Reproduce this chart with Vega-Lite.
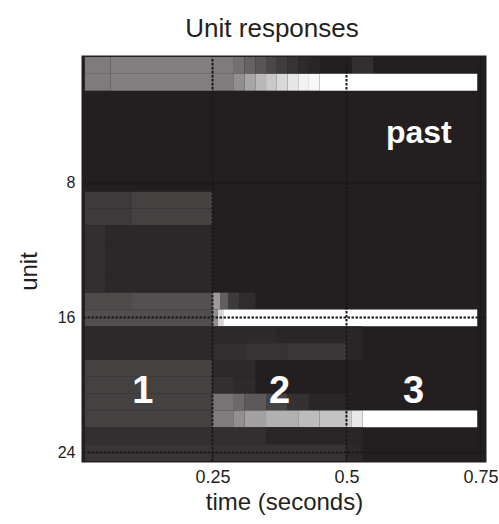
{
  "$schema": "https://vega.github.io/schema/vega-lite/v6.json",
  "width": 402,
  "height": 404,
  "autosize": {"type": "none"},
  "padding": {"left": 83, "top": 57, "right": 14, "bottom": 63},
  "background": "#ffffff",
  "config": {
    "view": {"fill": "#231f20", "stroke": "#231f20", "strokeWidth": 3},
    "axis": {
      "domain": false,
      "ticks": false,
      "grid": true,
      "gridColor": "#1a1718",
      "gridDash": [2.5, 1.5],
      "gridWidth": 2,
      "gridOpacity": 1,
      "labelColor": "#231f20",
      "titleColor": "#231f20",
      "labelFont": "Liberation Sans",
      "titleFont": "Liberation Sans",
      "titleFontWeight": "normal"
    }
  },
  "title": {
    "text": "Unit responses",
    "font": "Liberation Sans",
    "fontSize": 26,
    "fontWeight": "normal",
    "color": "#231f20",
    "anchor": "middle",
    "baseline": "alphabetic",
    "offset": 20,
    "dy": 26,
    "dx": -12
  },
  "encoding": {
    "x": {
      "field": "t",
      "type": "quantitative",
      "scale": {"domain": [0.0085, 0.7585], "nice": false, "zero": false},
      "axis": {
        "title": "time (seconds)",
        "values": [0.25, 0.5, 0.75],
        "format": ".2~f",
        "labelFontSize": 18,
        "labelPadding": 7,
        "titleFontSize": 24,
        "titlePadding": 4,
        "zindex": 1
      }
    },
    "y": {
      "field": "unit",
      "type": "ordinal",
      "scale": {
        "domain": [1, 2, 3, 4, 5, 6, 7, 8, 9, 10, 11, 12, 13, 14, 15, 16, 17, 18, 19, 20, 21, 22, 23, 24],
        "paddingInner": 0,
        "paddingOuter": 0
      },
      "axis": {
        "title": "unit",
        "values": [8, 16, 24],
        "bandPosition": 0.5,
        "labelAngle": 0,
        "labelFontSize": 16,
        "labelPadding": 8,
        "titleFontSize": 24,
        "titlePadding": 16,
        "titleY": 214,
        "zindex": 1
      }
    }
  },
  "layer": [
    {
      "data": {
        "values": [
          {"unit": 1, "t": 0.012, "t_end": 0.06, "v": 0.41},
          {"unit": 1, "t": 0.06, "t_end": 0.25, "v": 0.43},
          {"unit": 1, "t": 0.25, "t_end": 0.29, "v": 0.41},
          {"unit": 1, "t": 0.29, "t_end": 0.31, "v": 0.36},
          {"unit": 1, "t": 0.31, "t_end": 0.33, "v": 0.30},
          {"unit": 1, "t": 0.33, "t_end": 0.35, "v": 0.24},
          {"unit": 1, "t": 0.35, "t_end": 0.37, "v": 0.18},
          {"unit": 1, "t": 0.37, "t_end": 0.39, "v": 0.13},
          {"unit": 1, "t": 0.39, "t_end": 0.41, "v": 0.09},
          {"unit": 1, "t": 0.41, "t_end": 0.43, "v": 0.05},
          {"unit": 1, "t": 0.43, "t_end": 0.45, "v": 0.03},
          {"unit": 1, "t": 0.51, "t_end": 0.55, "v": 0.07},

          {"unit": 2, "t": 0.012, "t_end": 0.06, "v": 0.41},
          {"unit": 2, "t": 0.06, "t_end": 0.25, "v": 0.43},
          {"unit": 2, "t": 0.25, "t_end": 0.29, "v": 0.42},
          {"unit": 2, "t": 0.29, "t_end": 0.31, "v": 0.50},
          {"unit": 2, "t": 0.31, "t_end": 0.33, "v": 0.60},
          {"unit": 2, "t": 0.33, "t_end": 0.35, "v": 0.68},
          {"unit": 2, "t": 0.35, "t_end": 0.37, "v": 0.76},
          {"unit": 2, "t": 0.37, "t_end": 0.39, "v": 0.83},
          {"unit": 2, "t": 0.39, "t_end": 0.41, "v": 0.89},
          {"unit": 2, "t": 0.41, "t_end": 0.43, "v": 0.94},
          {"unit": 2, "t": 0.43, "t_end": 0.45, "v": 0.97},
          {"unit": 2, "t": 0.45, "t_end": 0.744, "v": 1.0},

          {"unit": 9, "t": 0.012, "t_end": 0.10, "v": 0.12},
          {"unit": 9, "t": 0.10, "t_end": 0.25, "v": 0.15},
          {"unit": 10, "t": 0.012, "t_end": 0.10, "v": 0.12},
          {"unit": 10, "t": 0.10, "t_end": 0.25, "v": 0.15},

          {"unit": 11, "t": 0.012, "t_end": 0.05, "v": 0.07},
          {"unit": 11, "t": 0.05, "t_end": 0.25, "v": 0.04},
          {"unit": 12, "t": 0.012, "t_end": 0.05, "v": 0.07},
          {"unit": 12, "t": 0.05, "t_end": 0.25, "v": 0.04},
          {"unit": 13, "t": 0.012, "t_end": 0.05, "v": 0.07},
          {"unit": 13, "t": 0.05, "t_end": 0.25, "v": 0.04},
          {"unit": 14, "t": 0.012, "t_end": 0.05, "v": 0.07},
          {"unit": 14, "t": 0.05, "t_end": 0.25, "v": 0.04},

          {"unit": 15, "t": 0.012, "t_end": 0.10, "v": 0.19},
          {"unit": 15, "t": 0.10, "t_end": 0.25, "v": 0.22},
          {"unit": 15, "t": 0.25, "t_end": 0.265, "v": 0.55},
          {"unit": 15, "t": 0.265, "t_end": 0.28, "v": 0.28},
          {"unit": 15, "t": 0.28, "t_end": 0.30, "v": 0.12},
          {"unit": 15, "t": 0.30, "t_end": 0.33, "v": 0.06},

          {"unit": 16, "t": 0.012, "t_end": 0.25, "v": 0.21},
          {"unit": 16, "t": 0.25, "t_end": 0.26, "v": 0.50},
          {"unit": 16, "t": 0.26, "t_end": 0.27, "v": 0.82},
          {"unit": 16, "t": 0.27, "t_end": 0.744, "v": 1.0},

          {"unit": 17, "t": 0.012, "t_end": 0.25, "v": 0.05},
          {"unit": 17, "t": 0.25, "t_end": 0.37, "v": 0.05},
          {"unit": 17, "t": 0.37, "t_end": 0.5, "v": 0.03},
          {"unit": 17, "t": 0.5, "t_end": 0.53, "v": 0.03},

          {"unit": 18, "t": 0.012, "t_end": 0.25, "v": 0.05},
          {"unit": 18, "t": 0.25, "t_end": 0.31, "v": 0.07},
          {"unit": 18, "t": 0.31, "t_end": 0.39, "v": 0.09},
          {"unit": 18, "t": 0.39, "t_end": 0.5, "v": 0.11},
          {"unit": 18, "t": 0.5, "t_end": 0.53, "v": 0.03},

          {"unit": 19, "t": 0.012, "t_end": 0.25, "v": 0.15},
          {"unit": 19, "t": 0.25, "t_end": 0.33, "v": 0.05},

          {"unit": 20, "t": 0.012, "t_end": 0.25, "v": 0.15},
          {"unit": 20, "t": 0.25, "t_end": 0.29, "v": 0.07},
          {"unit": 20, "t": 0.29, "t_end": 0.33, "v": 0.05},

          {"unit": 21, "t": 0.012, "t_end": 0.25, "v": 0.15},
          {"unit": 21, "t": 0.25, "t_end": 0.29, "v": 0.38},
          {"unit": 21, "t": 0.29, "t_end": 0.31, "v": 0.33},
          {"unit": 21, "t": 0.31, "t_end": 0.35, "v": 0.26},
          {"unit": 21, "t": 0.35, "t_end": 0.39, "v": 0.16},
          {"unit": 21, "t": 0.39, "t_end": 0.43, "v": 0.08},
          {"unit": 21, "t": 0.43, "t_end": 0.5, "v": 0.03},

          {"unit": 22, "t": 0.012, "t_end": 0.25, "v": 0.15},
          {"unit": 22, "t": 0.25, "t_end": 0.29, "v": 0.42},
          {"unit": 22, "t": 0.29, "t_end": 0.31, "v": 0.50},
          {"unit": 22, "t": 0.31, "t_end": 0.35, "v": 0.58},
          {"unit": 22, "t": 0.35, "t_end": 0.41, "v": 0.65},
          {"unit": 22, "t": 0.41, "t_end": 0.45, "v": 0.70},
          {"unit": 22, "t": 0.45, "t_end": 0.5, "v": 0.73},
          {"unit": 22, "t": 0.5, "t_end": 0.51, "v": 0.78},
          {"unit": 22, "t": 0.51, "t_end": 0.53, "v": 0.90},
          {"unit": 22, "t": 0.53, "t_end": 0.744, "v": 1.0},

          {"unit": 23, "t": 0.012, "t_end": 0.25, "v": 0.07},
          {"unit": 23, "t": 0.25, "t_end": 0.35, "v": 0.07},
          {"unit": 23, "t": 0.35, "t_end": 0.5, "v": 0.03},
          {"unit": 23, "t": 0.5, "t_end": 0.53, "v": 0.03},

          {"unit": 24, "t": 0.012, "t_end": 0.25, "v": 0.10},
          {"unit": 24, "t": 0.25, "t_end": 0.5, "v": 0.09},
          {"unit": 24, "t": 0.5, "t_end": 0.53, "v": 0.04}
        ]
      },
      "mark": {"type": "rect"},
      "encoding": {
        "x2": {"field": "t_end"},
        "color": {
          "field": "v",
          "type": "quantitative",
          "scale": {"type": "linear", "domain": [0, 1], "range": ["#231f20", "#ffffff"], "interpolate": "rgb"},
          "legend": null
        }
      }
    },
    {
      "data": {"values": [{"t": 0.635, "unit": 5, "label": "past"}]},
      "mark": {
        "type": "text",
        "font": "Liberation Sans",
        "fontWeight": "bold",
        "fontSize": 32,
        "color": "#ffffff",
        "align": "center",
        "baseline": "alphabetic",
        "dy": 10
      },
      "encoding": {"text": {"field": "label"}}
    },
    {
      "data": {
        "values": [
          {"t": 0.12, "unit": 20, "label": "1"},
          {"t": 0.375, "unit": 20, "label": "2"},
          {"t": 0.625, "unit": 20, "label": "3"}
        ]
      },
      "mark": {
        "type": "text",
        "font": "Liberation Sans",
        "fontWeight": "bold",
        "fontSize": 38,
        "color": "#ffffff",
        "align": "center",
        "baseline": "alphabetic",
        "dy": 18
      },
      "encoding": {"text": {"field": "label"}}
    }
  ]
}
